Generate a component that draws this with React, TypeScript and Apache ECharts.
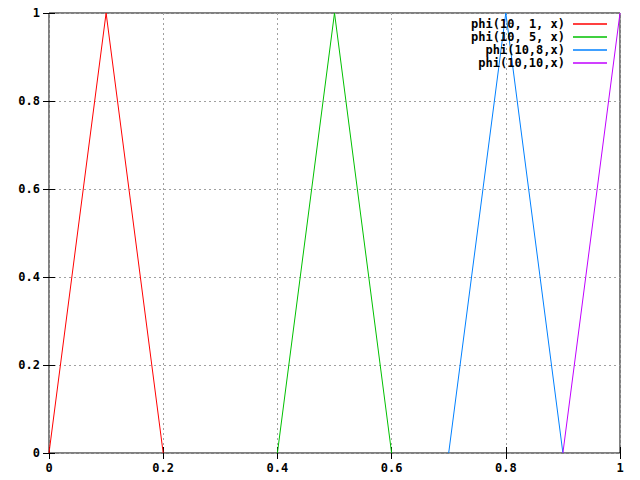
import React, { useEffect, useRef } from "react";
import * as echarts from "echarts";

const seriesNames = ["phi(10, 1, x)", "phi(10, 5, x)", "phi(10,8,x)", "phi(10,10,x)"];
const seriesColors = ["#ff0000", "#00c000", "#0080ff", "#c000ff"];
const phi1: [number, number][] = [[0, 0], [0.1, 1], [0.2, 0]];
const phi5: [number, number][] = [[0.4, 0], [0.5, 1], [0.6, 0]];
const phi8: [number, number][] = [[0.7, 0], [0.8, 1], [0.9, 0]];
const phi10: [number, number][] = [[0.9, 0], [1, 1]];
const seriesData = [phi1, phi5, phi8, phi10];

const FONT = "DejaVu Sans Mono";

export default function App() {
  const ref = useRef<HTMLDivElement>(null);
  useEffect(() => {
    if (!ref.current) return;
    const chart = echarts.init(ref.current, null, { renderer: "svg" });
    const labelStyle = { fontFamily: FONT, fontWeight: "bold" as const, fontSize: 12, color: "#000" };
    const splitLine = { show: true, lineStyle: { color: "#a0a0a0", type: [2, 3] as any, width: 1 } };
    chart.setOption({
      animation: false,
      backgroundColor: "#fff",
      grid: { left: 49, right: 20, top: 13, bottom: 27, show: true, borderColor: "#000", borderWidth: 1 },
      legend: seriesNames.map((n, i) => ({
        data: [n],
        orient: "horizontal",
        right: 33,
        top: 18 + i * 13,
        align: "right",
        icon: "rect",
        itemWidth: 34,
        itemHeight: 1.5,
        itemGap: 0,
        padding: 0,
        textStyle: { ...labelStyle, padding: [0, 3, 0, 0] },
      })),
      xAxis: [
        {
          type: "value", min: 0, max: 1, interval: 0.2,
          axisLine: { show: false },
          axisTick: { show: true, inside: true, length: 6, lineStyle: { color: "#000" } },
          axisLabel: { ...labelStyle, margin: 9, formatter: (v: number) => String(+v.toFixed(1)) },
          splitLine,
        },
        {
          type: "value", position: "top", min: 0, max: 1, interval: 0.2,
          axisLine: { show: false },
          axisTick: { show: true, inside: true, length: 6, lineStyle: { color: "#000" } },
          axisLabel: { show: false }, splitLine: { show: false },
        },
      ],
      yAxis: [
        {
          type: "value", min: 0, max: 1, interval: 0.2,
          axisLine: { show: false },
          axisTick: { show: true, inside: true, length: 6, lineStyle: { color: "#000" } },
          axisLabel: { ...labelStyle, margin: 9, formatter: (v: number) => String(+v.toFixed(1)) },
          splitLine,
        },
        {
          type: "value", position: "right", min: 0, max: 1, interval: 0.2,
          axisLine: { show: false },
          axisTick: { show: true, inside: true, length: 6, lineStyle: { color: "#000" } },
          axisLabel: { show: false }, splitLine: { show: false },
        },
      ],
      series: seriesNames.map((n, i) => ({
        name: n,
        type: "line",
        data: seriesData[i],
        showSymbol: false,
        symbol: "none",
        color: seriesColors[i],
        lineStyle: { color: seriesColors[i], width: 1 },
      })),
    });
    return () => chart.dispose();
  }, []);
  return <div ref={ref} style={{ position: "fixed", left: 0, top: 0, width: 640, height: 480 }} />;
}
